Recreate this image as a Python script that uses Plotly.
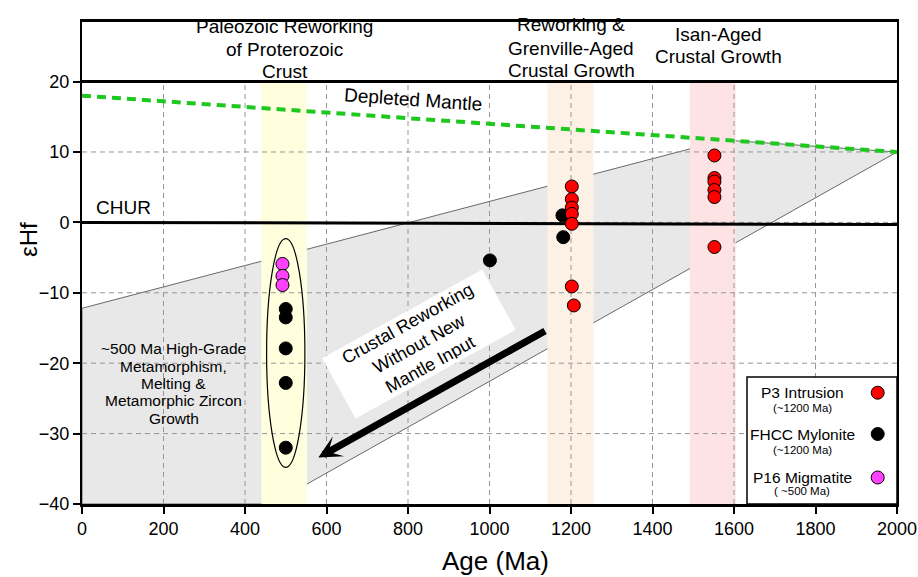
import plotly.graph_objects as go

# ---------------- data ----------------
p3_age = [1202, 1202, 1202, 1202, 1202, 1202, 1207, 1552, 1552, 1552, 1552, 1552, 1552]
p3_ehf = [5.1, 3.3, 2.1, 1.2, -0.2, -9.1, -11.8, 9.5, 6.3, 5.8, 4.6, 3.6, -3.5]

fhcc_age = [1179, 1181, 1001, 500, 500, 500, 500, 500]
fhcc_ehf = [1.0, -2.1, -5.4, -12.3, -13.5, -17.9, -22.8, -32.0]

p16_age = [492, 492, 492]
p16_ehf = [-5.9, -7.6, -8.9]

dm_age = [0, 2000]
dm_ehf = [18, 10]
chur_age = [0, 2000]
chur_ehf = [0, -0.3]

wedge_age = [0, 1575, 2000, 465, 0]
wedge_ehf = [-12.2, 11.7, 10, -40, -40]

bands = [(440, 552, "rgb(255,255,222)"), (1142, 1255, "rgb(253,240,228)"), (1492, 1604, "rgb(253,227,227)")]

x_ticks = list(range(0, 2001, 200))
y_ticks = list(range(-40, 21, 10))
grid_x = list(range(200, 1801, 200))
grid_y = [-30, -20, -10, 0, 10]

FONT = "Liberation Sans, Arial, sans-serif"

# ---------------- geometry (window pixels) ----------------
L, R, T, B = 82, 897, 22, 504
W, H = 918, 577


def py(p):  # window pixel y -> paper y
    return (B - p) / (B - T)


def px(p):  # window pixel x -> paper x
    return (p - L) / (R - L)


fig = go.Figure()

shapes = []
path = "M " + " L ".join(f"{a},{e}" for a, e in zip(wedge_age, wedge_ehf)) + " Z"
shapes.append(dict(type="path", path=path, xref="x", yref="y", layer="below",
                   fillcolor="rgb(232,232,232)", line=dict(color="rgb(105,105,105)", width=1)))
for x0, x1, c in bands:
    shapes.append(dict(type="rect", xref="x", yref="y", x0=x0, x1=x1, y0=-40, y1=20,
                       layer="below", fillcolor=c, line=dict(width=0)))
for gx in grid_x:
    shapes.append(dict(type="line", xref="x", yref="y", x0=gx, x1=gx, y0=-40, y1=20, layer="below",
                       line=dict(color="rgb(150,150,150)", width=1, dash="5px,4px")))
for gy in grid_y:
    shapes.append(dict(type="line", xref="x", yref="y", x0=0, x1=2000, y0=gy, y1=gy, layer="below",
                       line=dict(color="rgb(150,150,150)", width=1, dash="5px,4px")))
shapes.append(dict(type="rect", xref="paper", yref="paper", x0=px(91), x1=px(256), y0=py(431), y1=py(331),
                   layer="below", fillcolor="white", line=dict(width=0)))
shapes.append(dict(type="line", xref="x", yref="y", x0=0, x1=2000, y0=20, y1=20, layer="above",
                   line=dict(color="black", width=3)))
shapes.append(dict(type="circle", xref="x", yref="y", x0=453, x1=547, y0=-34.8, y1=-2.3, layer="above",
                   line=dict(color="black", width=1.2)))
shapes.append(dict(type="rect", xref="paper", yref="paper", x0=px(747), x1=1, y0=0, y1=py(377),
                   layer="above", fillcolor="white", line=dict(color="black", width=1.5)))
leg_items = [("P3 Intrusion", "(~1200 Ma)", "red", 392.7, 407.5),
             ("FHCC Mylonite", "(~1200 Ma)", "black", 434, 450),
             ("P16 Migmatite", "( ~500 Ma)", "rgb(255,64,255)", 477.5, 491)]
for name, sub, col, yy, ys in leg_items:
    shapes.append(dict(type="circle", xref="paper", yref="paper", xsizemode="pixel", ysizemode="pixel",
                       xanchor=px(877.7), yanchor=py(yy), x0=-6.5, x1=6.5, y0=-6.5, y1=6.5, layer="above",
                       fillcolor=col, line=dict(color="black", width=1)))

# ---------------- traces ----------------
fig.add_trace(go.Scatter(x=dm_age, y=dm_ehf, mode="lines", hoverinfo="skip",
                         line=dict(color="rgb(30,200,30)", width=4, dash="9px,6px")))
fig.add_trace(go.Scatter(x=chur_age, y=chur_ehf, mode="lines", hoverinfo="skip",
                         line=dict(color="black", width=3)))
mk = dict(size=13, line=dict(color="black", width=1))
fig.add_trace(go.Scatter(x=fhcc_age, y=fhcc_ehf, mode="markers", name="FHCC Mylonite",
                         marker=dict(color="black", **mk)))
fig.add_trace(go.Scatter(x=p3_age, y=p3_ehf, mode="markers", name="P3 Intrusion",
                         marker=dict(color="red", **mk)))
fig.add_trace(go.Scatter(x=p16_age, y=p16_ehf, mode="markers", name="P16 Migmatite",
                         marker=dict(color="rgb(255,64,255)", **mk)))

# ---------------- annotations ----------------
ann = []


def lines(textlines, xc, ys, size, xref="x"):
    for t, yy in zip(textlines, ys):
        ann.append(dict(text=t, x=xc, xref=xref, y=py(yy), yref="paper", showarrow=False,
                        xanchor="center", yanchor="middle", font=dict(family=FONT, size=size, color="black")))


lines(["Paleozoic Reworking", "of Proterozoic", "Crust"], 498, [27, 49.5, 72], 19)
lines(["Reworking &", "Grenville-Aged", "Crustal Growth"], 1200, [25, 48, 70], 19)
lines(["Isan-Aged", "Crustal Growth"], 1561, [34.5, 57], 19)
lines(["~500 Ma High-Grade", "Metamorphism,", "Melting &", "Metamorphic Zircon", "Growth"],
      px(173.5), [348.3, 366.5, 383.5, 400.5, 418.3], 15.5, xref="paper")

for name, sub, col, yy, ys in leg_items:
    ann.append(dict(text=name, x=px(802), xref="paper", y=py(yy), yref="paper", showarrow=False,
                    xanchor="center", yanchor="middle", font=dict(family=FONT, size=15.5, color="black")))
    ann.append(dict(text=sub, x=px(802), xref="paper", y=py(ys), yref="paper", showarrow=False,
                    xanchor="center", yanchor="middle", font=dict(family=FONT, size=11.5, color="black")))

ann.append(dict(text="Depleted Mantle", x=812, y=17.4, xref="x", yref="y", showarrow=False, textangle=4,
                font=dict(family=FONT, size=19, color="black")))
ann.append(dict(text="CHUR", x=29, y=2.1, xref="x", yref="y", showarrow=False, xanchor="left",
                font=dict(family=FONT, size=19, color="black")))
ann.append(dict(text="Crustal Reworking<br>Without New<br>Mantle Input", x=827, y=-17.3, xref="x", yref="y",
                showarrow=False, textangle=-29, bgcolor="white", width=176, height=62, borderpad=3,
                font=dict(family=FONT, size=18, color="black")))
ann.append(dict(text="", x=580, y=-33.4, ax=1140, ay=-15.3, xref="x", yref="y", axref="x", ayref="y",
                showarrow=True, arrowhead=3, arrowwidth=7, arrowsize=0.55, arrowcolor="black", standoff=0))
ann.append(dict(text="Age (Ma)", x=px(496), xref="paper", y=py(561), yref="paper", showarrow=False,
                xanchor="center", yanchor="middle", font=dict(family=FONT, size=26, color="black")))
ann.append(dict(text="εHf", x=px(29), xref="paper", y=py(240), yref="paper", showarrow=False, textangle=-90,
                xanchor="center", yanchor="middle", font=dict(family=FONT, size=24, color="black")))

fig.update_layout(
    width=W, height=H,
    margin=dict(l=L, r=W - R, t=T, b=H - B, autoexpand=False),
    paper_bgcolor="white", plot_bgcolor="white", showlegend=False,
    shapes=shapes, annotations=ann,
    xaxis=dict(range=[0, 2000], tickvals=x_ticks, ticks="outside", ticklen=7, tickwidth=2, tickcolor="black",
               showline=True, linewidth=2.5, linecolor="black", mirror=True, showgrid=False, zeroline=False,
               automargin=False, tickfont=dict(family=FONT, size=18, color="black")),
    yaxis=dict(range=[-40, 28.46], tickvals=y_ticks, ticks="outside", ticklen=7, tickwidth=2, tickcolor="black",
               showline=True, linewidth=2, linecolor="black", mirror=True, showgrid=False, zeroline=False,
               automargin=False, tickfont=dict(family=FONT, size=18, color="black")),
)

# remove the browser's default 8px page margin so the 918x577 figure fills the window exactly
fig.write_html("out.html", config={"displayModeBar": False},
               post_script="document.body.style.margin='0';document.body.style.overflow='hidden';")
